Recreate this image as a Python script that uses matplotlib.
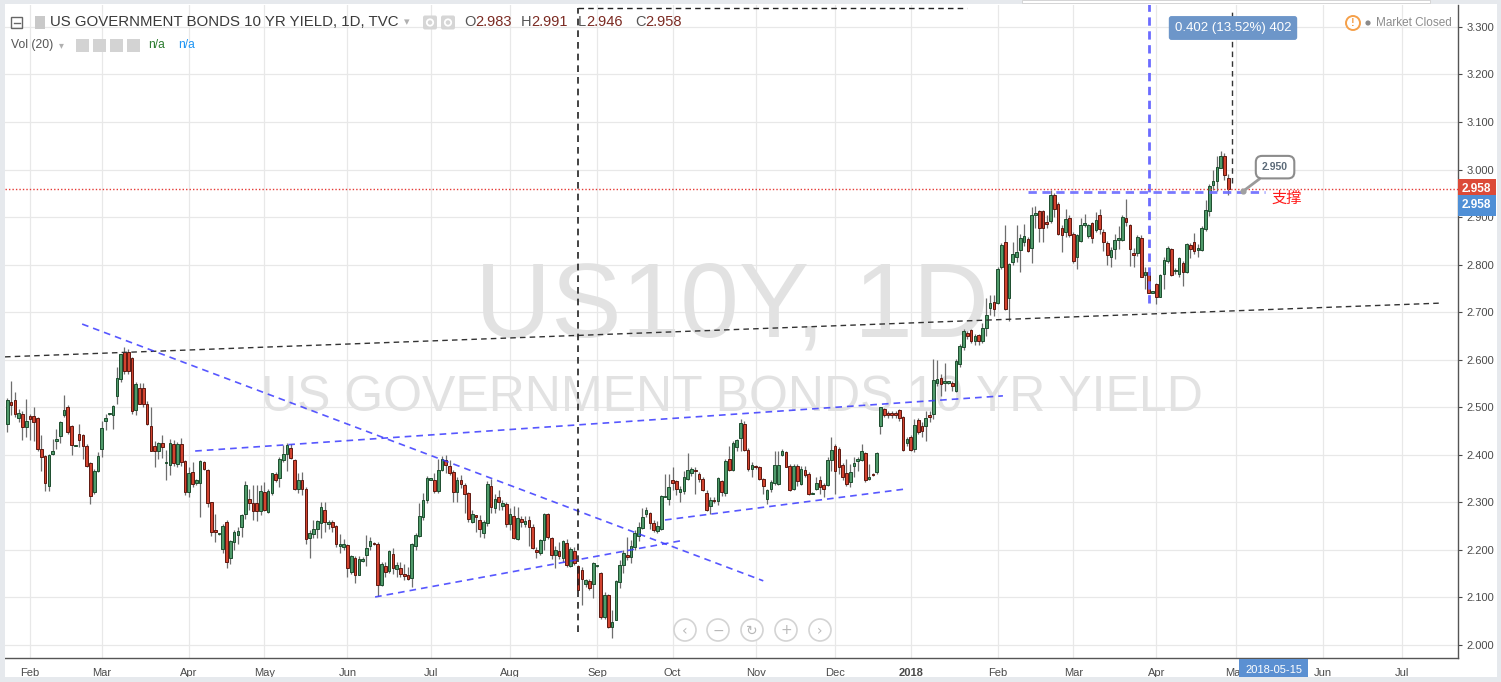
import numpy as np
import pandas as pd
import matplotlib
matplotlib.use("Agg")
import matplotlib.pyplot as plt
from matplotlib.patches import Rectangle, Circle, FancyBboxPatch

plt.rcParams["font.family"] = ["Liberation Sans", "DejaVu Sans"]

# daily OHLC of US10Y (TVC), last bar is 2018-04-27
opens = [
    2.465, 2.512, 2.515, 2.478, 2.486, 2.458, 2.481, 2.481, 2.478, 2.413,
    2.397, 2.335, 2.402, 2.429, 2.439, 2.483, 2.501, 2.460, 2.419, 2.443,
    2.442, 2.419, 2.383, 2.322, 2.366, 2.413, 2.471, 2.486, 2.483, 2.523,
    2.560, 2.616, 2.616, 2.604, 2.495, 2.541, 2.541, 2.506, 2.461, 2.419,
    2.409, 2.424, 2.382, 2.378, 2.422, 2.380, 2.422, 2.386, 2.322, 2.364,
    2.340, 2.341, 2.384, 2.369, 2.300, 2.241, 2.234, 2.201, 2.258, 2.184,
    2.217, 2.231, 2.248, 2.276, 2.308, 2.298, 2.298, 2.282, 2.321, 2.280,
    2.320, 2.359, 2.352, 2.390, 2.401, 2.415, 2.390, 2.329, 2.347, 2.329,
    2.225, 2.234, 2.245, 2.257, 2.285, 2.254, 2.258, 2.250, 2.209, 2.206,
    2.211, 2.154, 2.184, 2.148, 2.177, 2.190, 2.208, 2.214, 2.213, 2.127,
    2.166, 2.155, 2.192, 2.159, 2.163, 2.150, 2.147, 2.140, 2.209, 2.230,
    2.270, 2.305, 2.348, 2.348, 2.324, 2.369, 2.390, 2.376, 2.364, 2.322,
    2.348, 2.336, 2.319, 2.259, 2.273, 2.262, 2.235, 2.257, 2.335, 2.289,
    2.312, 2.292, 2.297, 2.255, 2.272, 2.223, 2.265, 2.255, 2.263, 2.249,
    2.199, 2.193, 2.221, 2.275, 2.225, 2.190, 2.197, 2.183, 2.215, 2.167,
    2.197, 2.167, 2.157, 2.129, 2.134, 2.129, 2.166, 2.152, 2.059, 2.106,
    2.038, 2.053, 2.132, 2.169, 2.190, 2.186, 2.206, 2.230, 2.247, 2.276,
    2.278, 2.257, 2.240, 2.244, 2.311, 2.307, 2.346, 2.344, 2.321, 2.323,
    2.349, 2.362, 2.367, 2.360, 2.349, 2.320, 2.293, 2.305, 2.302, 2.344,
    2.320, 2.391, 2.368, 2.416, 2.436, 2.465, 2.410, 2.370, 2.377, 2.374,
    2.349, 2.307, 2.328, 2.340, 2.339, 2.400, 2.405, 2.377, 2.328, 2.377,
    2.339, 2.368, 2.360, 2.318, 2.328, 2.346, 2.337, 2.337, 2.389, 2.419,
    2.412, 2.379, 2.361, 2.342, 2.377, 2.388, 2.389, 2.403, 2.349, 2.360,
    2.363, 2.461, 2.496, 2.488, 2.488, 2.488, 2.494, 2.480, 2.424, 2.438,
    2.412, 2.473, 2.461, 2.461, 2.484, 2.486, 2.552, 2.561, 2.552, 2.552,
    2.552, 2.535, 2.591, 2.626, 2.657, 2.662, 2.640, 2.652, 2.640, 2.667,
    2.708, 2.722, 2.720, 2.794, 2.847, 2.730, 2.805, 2.815, 2.831, 2.848,
    2.854, 2.835, 2.905, 2.912, 2.912, 2.890, 2.891, 2.947, 2.928, 2.876,
    2.869, 2.898, 2.865, 2.817, 2.849, 2.883, 2.861, 2.888, 2.873, 2.905,
    2.869, 2.845, 2.817, 2.832, 2.851, 2.851, 2.897, 2.883, 2.825, 2.824,
    2.856, 2.778, 2.784, 2.741, 2.760, 2.732, 2.780, 2.808, 2.832, 2.787,
    2.780, 2.803, 2.785, 2.841, 2.848, 2.830, 2.830, 2.874, 2.912, 2.967,
    2.975, 3.003, 3.028, 2.983,
]
highs = [
    2.520, 2.556, 2.532, 2.497, 2.493, 2.518, 2.486, 2.500, 2.479, 2.442,
    2.399, 2.402, 2.434, 2.455, 2.472, 2.525, 2.504, 2.462, 2.420, 2.464,
    2.444, 2.422, 2.385, 2.371, 2.406, 2.472, 2.485, 2.488, 2.504, 2.584,
    2.612, 2.626, 2.622, 2.605, 2.553, 2.550, 2.550, 2.513, 2.500, 2.430,
    2.428, 2.441, 2.410, 2.433, 2.431, 2.427, 2.436, 2.389, 2.375, 2.385,
    2.350, 2.389, 2.387, 2.371, 2.301, 2.275, 2.236, 2.255, 2.262, 2.220,
    2.242, 2.248, 2.276, 2.345, 2.329, 2.336, 2.336, 2.336, 2.343, 2.329,
    2.362, 2.364, 2.396, 2.420, 2.425, 2.422, 2.392, 2.361, 2.364, 2.333,
    2.241, 2.262, 2.262, 2.301, 2.301, 2.263, 2.263, 2.252, 2.234, 2.224,
    2.213, 2.189, 2.187, 2.187, 2.185, 2.231, 2.227, 2.216, 2.216, 2.175,
    2.175, 2.199, 2.203, 2.175, 2.175, 2.170, 2.164, 2.215, 2.235, 2.298,
    2.319, 2.355, 2.350, 2.361, 2.392, 2.397, 2.399, 2.389, 2.368, 2.354,
    2.357, 2.340, 2.322, 2.284, 2.273, 2.273, 2.263, 2.345, 2.350, 2.318,
    2.325, 2.305, 2.300, 2.289, 2.292, 2.291, 2.272, 2.272, 2.272, 2.255,
    2.206, 2.223, 2.277, 2.277, 2.227, 2.209, 2.216, 2.220, 2.223, 2.206,
    2.206, 2.169, 2.164, 2.139, 2.139, 2.174, 2.168, 2.153, 2.111, 2.108,
    2.074, 2.137, 2.179, 2.199, 2.227, 2.220, 2.241, 2.258, 2.288, 2.290,
    2.279, 2.262, 2.260, 2.316, 2.360, 2.360, 2.375, 2.346, 2.335, 2.365,
    2.403, 2.374, 2.374, 2.363, 2.353, 2.325, 2.311, 2.311, 2.354, 2.347,
    2.391, 2.419, 2.429, 2.433, 2.475, 2.472, 2.414, 2.384, 2.379, 2.377,
    2.351, 2.328, 2.346, 2.407, 2.407, 2.412, 2.407, 2.381, 2.381, 2.381,
    2.377, 2.377, 2.363, 2.321, 2.353, 2.356, 2.340, 2.395, 2.438, 2.423,
    2.416, 2.382, 2.391, 2.381, 2.395, 2.396, 2.423, 2.405, 2.381, 2.362,
    2.405, 2.501, 2.498, 2.493, 2.493, 2.493, 2.496, 2.482, 2.438, 2.442,
    2.475, 2.477, 2.468, 2.493, 2.493, 2.601, 2.599, 2.570, 2.594, 2.556,
    2.556, 2.601, 2.633, 2.665, 2.660, 2.665, 2.655, 2.655, 2.678, 2.730,
    2.737, 2.737, 2.796, 2.845, 2.883, 2.803, 2.848, 2.883, 2.865, 2.886,
    2.858, 2.921, 2.924, 2.914, 2.914, 2.904, 2.956, 2.951, 2.931, 2.883,
    2.917, 2.904, 2.869, 2.865, 2.897, 2.907, 2.886, 2.890, 2.910, 2.916,
    2.874, 2.850, 2.837, 2.864, 2.881, 2.905, 2.937, 2.885, 2.836, 2.862,
    2.863, 2.794, 2.790, 2.742, 2.762, 2.780, 2.815, 2.840, 2.836, 2.793,
    2.816, 2.808, 2.846, 2.846, 2.867, 2.843, 2.881, 2.935, 2.969, 3.000,
    3.028, 3.039, 3.035, 2.991,
]
lows = [
    2.448, 2.483, 2.479, 2.469, 2.432, 2.437, 2.432, 2.430, 2.409, 2.367,
    2.324, 2.324, 2.399, 2.413, 2.425, 2.479, 2.444, 2.399, 2.418, 2.416,
    2.392, 2.374, 2.297, 2.318, 2.364, 2.395, 2.453, 2.484, 2.455, 2.506,
    2.554, 2.570, 2.570, 2.486, 2.483, 2.506, 2.500, 2.462, 2.408, 2.374,
    2.392, 2.394, 2.347, 2.357, 2.376, 2.375, 2.377, 2.315, 2.312, 2.333,
    2.336, 2.270, 2.368, 2.290, 2.229, 2.217, 2.232, 2.194, 2.161, 2.170,
    2.199, 2.213, 2.227, 2.266, 2.284, 2.262, 2.261, 2.273, 2.282, 2.278,
    2.315, 2.343, 2.333, 2.385, 2.366, 2.392, 2.326, 2.319, 2.315, 2.213,
    2.182, 2.226, 2.226, 2.226, 2.238, 2.245, 2.238, 2.206, 2.194, 2.199,
    2.143, 2.150, 2.131, 2.147, 2.175, 2.166, 2.199, 2.210, 2.103, 2.125,
    2.143, 2.152, 2.150, 2.143, 2.142, 2.137, 2.136, 2.121, 2.200, 2.227,
    2.263, 2.298, 2.346, 2.319, 2.319, 2.366, 2.361, 2.357, 2.301, 2.301,
    2.331, 2.277, 2.259, 2.256, 2.238, 2.228, 2.226, 2.250, 2.277, 2.277,
    2.283, 2.283, 2.248, 2.241, 2.223, 2.221, 2.248, 2.248, 2.209, 2.202,
    2.183, 2.190, 2.199, 2.223, 2.181, 2.162, 2.181, 2.174, 2.165, 2.164,
    2.169, 2.115, 2.085, 2.122, 2.115, 2.099, 2.164, 2.055, 2.055, 2.036,
    2.015, 2.052, 2.120, 2.151, 2.178, 2.172, 2.200, 2.219, 2.244, 2.270,
    2.244, 2.237, 2.235, 2.241, 2.311, 2.295, 2.325, 2.316, 2.300, 2.318,
    2.346, 2.356, 2.318, 2.342, 2.323, 2.281, 2.276, 2.298, 2.295, 2.314,
    2.314, 2.367, 2.367, 2.409, 2.409, 2.409, 2.367, 2.353, 2.370, 2.346,
    2.318, 2.297, 2.321, 2.337, 2.337, 2.398, 2.374, 2.323, 2.326, 2.335,
    2.337, 2.353, 2.316, 2.317, 2.325, 2.318, 2.311, 2.335, 2.367, 2.318,
    2.360, 2.346, 2.335, 2.332, 2.353, 2.367, 2.388, 2.342, 2.346, 2.356,
    2.360, 2.444, 2.480, 2.477, 2.477, 2.477, 2.472, 2.407, 2.419, 2.407,
    2.405, 2.444, 2.437, 2.430, 2.468, 2.475, 2.545, 2.524, 2.535, 2.548,
    2.535, 2.533, 2.584, 2.620, 2.643, 2.635, 2.630, 2.630, 2.635, 2.650,
    2.695, 2.692, 2.718, 2.791, 2.704, 2.681, 2.799, 2.806, 2.785, 2.840,
    2.826, 2.803, 2.876, 2.847, 2.847, 2.877, 2.888, 2.900, 2.862, 2.827,
    2.858, 2.858, 2.803, 2.791, 2.847, 2.879, 2.856, 2.845, 2.869, 2.864,
    2.829, 2.800, 2.796, 2.811, 2.832, 2.850, 2.881, 2.797, 2.794, 2.818,
    2.773, 2.748, 2.741, 2.740, 2.717, 2.731, 2.748, 2.804, 2.776, 2.780,
    2.773, 2.755, 2.783, 2.814, 2.822, 2.815, 2.829, 2.871, 2.902, 2.956,
    2.955, 3.003, 2.977, 2.946,
]
closes = [
    2.515, 2.505, 2.485, 2.488, 2.458, 2.472, 2.476, 2.469, 2.413, 2.395,
    2.341, 2.400, 2.408, 2.434, 2.470, 2.495, 2.448, 2.421, 2.419, 2.432,
    2.419, 2.377, 2.313, 2.367, 2.397, 2.457, 2.478, 2.486, 2.502, 2.562,
    2.611, 2.577, 2.577, 2.492, 2.549, 2.507, 2.507, 2.465, 2.409, 2.409,
    2.425, 2.417, 2.382, 2.424, 2.383, 2.422, 2.385, 2.322, 2.361, 2.338,
    2.348, 2.386, 2.371, 2.299, 2.238, 2.237, 2.234, 2.251, 2.175, 2.218,
    2.237, 2.239, 2.274, 2.336, 2.299, 2.282, 2.282, 2.323, 2.285, 2.323,
    2.361, 2.348, 2.392, 2.401, 2.420, 2.394, 2.329, 2.347, 2.329, 2.224,
    2.236, 2.245, 2.260, 2.291, 2.258, 2.258, 2.249, 2.213, 2.213, 2.213,
    2.161, 2.187, 2.148, 2.180, 2.180, 2.203, 2.218, 2.213, 2.127, 2.171,
    2.154, 2.197, 2.162, 2.168, 2.150, 2.146, 2.138, 2.212, 2.231, 2.271,
    2.305, 2.352, 2.348, 2.324, 2.369, 2.392, 2.378, 2.362, 2.322, 2.348,
    2.338, 2.317, 2.266, 2.275, 2.270, 2.243, 2.258, 2.338, 2.290, 2.307,
    2.300, 2.299, 2.254, 2.275, 2.226, 2.268, 2.258, 2.260, 2.249, 2.204,
    2.195, 2.221, 2.275, 2.227, 2.190, 2.199, 2.188, 2.218, 2.169, 2.201,
    2.173, 2.116, 2.139, 2.136, 2.120, 2.173, 2.166, 2.059, 2.106, 2.038,
    2.048, 2.134, 2.169, 2.193, 2.186, 2.209, 2.235, 2.249, 2.270, 2.283,
    2.257, 2.241, 2.250, 2.314, 2.314, 2.333, 2.340, 2.328, 2.328, 2.354,
    2.368, 2.370, 2.365, 2.349, 2.325, 2.283, 2.305, 2.302, 2.351, 2.321,
    2.388, 2.368, 2.425, 2.431, 2.467, 2.410, 2.370, 2.379, 2.374, 2.349,
    2.335, 2.325, 2.342, 2.379, 2.379, 2.407, 2.375, 2.326, 2.377, 2.344,
    2.370, 2.358, 2.318, 2.319, 2.340, 2.332, 2.328, 2.389, 2.410, 2.367,
    2.374, 2.354, 2.339, 2.363, 2.382, 2.391, 2.409, 2.346, 2.354, 2.358,
    2.404, 2.500, 2.484, 2.484, 2.484, 2.484, 2.477, 2.410, 2.433, 2.410,
    2.463, 2.449, 2.451, 2.477, 2.479, 2.557, 2.559, 2.549, 2.552, 2.552,
    2.545, 2.598, 2.629, 2.661, 2.650, 2.640, 2.650, 2.640, 2.667, 2.695,
    2.720, 2.706, 2.791, 2.841, 2.706, 2.801, 2.822, 2.827, 2.856, 2.860,
    2.829, 2.904, 2.908, 2.876, 2.876, 2.886, 2.947, 2.917, 2.865, 2.863,
    2.895, 2.862, 2.808, 2.862, 2.884, 2.888, 2.883, 2.857, 2.894, 2.875,
    2.848, 2.820, 2.830, 2.852, 2.857, 2.901, 2.890, 2.832, 2.820, 2.859,
    2.774, 2.784, 2.741, 2.741, 2.732, 2.778, 2.809, 2.835, 2.778, 2.787,
    2.814, 2.785, 2.843, 2.832, 2.829, 2.834, 2.877, 2.914, 2.965, 2.976,
    3.005, 3.028, 2.988, 2.958,
]

last_day = "2018-04-27"
holidays = ["2017-02-20", "2017-05-29", "2017-09-04", "2017-11-23", "2017-12-25"]
future_bars = 61
price_ticks = [2.0, 2.1, 2.2, 2.3, 2.4, 2.5, 2.6, 2.7, 2.8, 2.9, 3.0, 3.1, 3.2, 3.3]

# drawings on the chart: (bar number, price)
black_trend = [(-0.6, 2.606), (379.0, 2.719)]
blue_trends = [
    [(19.8, 2.675), (200.0, 2.135)],
    [(49.7, 2.408), (263.4, 2.524)],
    [(97.3, 2.101), (178.0, 2.219)],
    [(174.0, 2.263), (237.5, 2.328)],
]
support_line = [(270.0, 2.953), (332.7, 2.953)]
support_point = (326.9, 2.954)
support_label = (335.4, 3.005)
support_text = (338.5, 2.940)
last_price = 2.958
measure_bars = [302, 324]
measure_low = [2.719, 2.971]
box_bars = [151, 254]
box_prices = [2.027, 3.340]
cursor_date = "2018-05-15"

# ---------------------------------------------------------------
n = len(closes)
dates = pd.bdate_range(end=last_day, periods=n, freq="C", holidays=holidays)
future = pd.bdate_range(start=dates[-1] + pd.Timedelta(days=1), periods=future_bars)
all_dates = dates.append(future)
months = all_dates.to_period("M")
tick_idx = [i for i in range(1, len(all_dates)) if months[i] != months[i - 1]]
tick_lab = ["2018" if all_dates[i].month == 1 else all_dates[i].strftime("%b") for i in tick_idx]

W, H = 1501, 682
fig = plt.figure(figsize=(W / 100, H / 100), dpi=100)
fig.patch.set_facecolor("white")
ax = fig.add_axes([5 / W, 24 / H, 1453 / W, 653 / H])
ax.set_xlim(-0.61, 383.8)
ax.set_ylim(1.9727, 3.346)
ax.set_axisbelow(True)

# candles
x = np.arange(n)
o, h, l, c = (np.array(v) for v in (opens, highs, lows, closes))
up = c >= o
ax.vlines(x, l, h, color="#6e6e6e", lw=0.9, zorder=3)
body = np.maximum(np.abs(c - o), 0.0025)
bottom = np.minimum(o, c)
ax.bar(x[up], body[up], bottom=bottom[up], width=0.7, color="#4f9a6a",
       edgecolor="#1d4d2e", lw=0.7, zorder=4)
ax.bar(x[~up], body[~up], bottom=bottom[~up], width=0.7, color="#d2432f",
       edgecolor="#5e1810", lw=0.7, zorder=4)

# axes styling
ax.set_yticks(price_ticks)
ax.set_yticklabels([f"{p:.3f}" for p in price_ticks])
ax.yaxis.tick_right()
ax.set_xticks(tick_idx)
ax.set_xticklabels(tick_lab)
for t in ax.get_xticklabels():
    if t.get_text() == "2018":
        t.set_fontweight("bold")
ax.tick_params(axis="y", labelsize=8, colors="#4a4a4a", length=3, pad=3)
ax.tick_params(axis="x", labelsize=8, colors="#4a4a4a", length=0, pad=7)
ax.grid(True, color="#e8e8e8", lw=0.9)
for s in ("left", "top"):
    ax.spines[s].set_visible(False)
for s in ("right", "bottom"):
    ax.spines[s].set_color("#555555")
    ax.spines[s].set_linewidth(1.0)

# watermark
ax.text(0.5, 0.535, "US10Y, 1D", transform=ax.transAxes, ha="center", va="center",
        fontsize=76, color="#e2e2e2", zorder=0.6)
ax.text(0.5, 0.398, "US GOVERNMENT BONDS 10 YR YIELD", transform=ax.transAxes,
        ha="center", va="center", fontsize=36, color="#e2e2e2", zorder=0.6)

# trend lines
(x0, y0), (x1, y1) = black_trend
ax.plot([x0, x1], [y0, y1], color="#333333", lw=1.0, ls=(0, (4, 3)), zorder=5)
for (x0, y0), (x1, y1) in blue_trends:
    ax.plot([x0, x1], [y0, y1], color="#3a3aff", lw=1.2, ls=(0, (4, 3)), alpha=0.85, zorder=5)
(x0, y0), (x1, y1) = support_line
ax.plot([x0, x1], [y0, y1], color="#6b6bff", lw=2.0, ls=(0, (3, 2)), alpha=0.9, zorder=5)

# date/price box tool
ax.plot([box_bars[0], box_bars[0]], box_prices, color="#222222", lw=1.2, ls=(0, (4, 3)), zorder=5)
ax.plot(box_bars, [box_prices[1], box_prices[1]], color="#222222", lw=1.0, ls=(0, (4, 3)), zorder=5)

# measure tool
ax.plot([measure_bars[0]] * 2, [measure_low[0], 3.36], color="#6b6bff", lw=2.0,
        ls=(0, (3, 2)), zorder=5, clip_on=True)
ax.plot([measure_bars[1]] * 2, [measure_low[1], 3.34], color="#333333", lw=1.0,
        ls=(0, (4, 3)), zorder=5)

# last price line
ax.axhline(last_price, color="#e53935", lw=1.0, ls=(0, (1, 1.5)), zorder=5)

# support callout
ax.annotate("2.950", xy=support_point, xytext=support_label, textcoords="data",
            ha="center", va="center", fontsize=7.5, fontweight="bold", color="#5b6a78",
            bbox=dict(boxstyle="round,pad=0.6", fc="white", ec="#8c8c8c", lw=1.5),
            arrowprops=dict(arrowstyle="-", color="#9a9a9a", lw=2.0, shrinkA=0, shrinkB=0),
            zorder=7)
ax.plot(*support_point, "o", ms=3.5, color="#a0a0a0", zorder=7)
ax.text(*support_text, "支撑", ha="center", va="center", fontsize=11, color="#ff1a1a",
        family=["Noto Sans CJK SC", "DejaVu Sans"], zorder=7)

# price labels on the axis
ax.annotate(f"{last_price:.3f}", xy=(1, last_price), xycoords=ax.get_yaxis_transform(),
            xytext=(4, 0), textcoords="offset pixels", ha="left", va="center",
            fontsize=8.5, fontweight="bold", color="white", annotation_clip=False,
            bbox=dict(boxstyle="square,pad=0.35", fc="#dc4a38", ec="none"), zorder=8)
ax.annotate(f"{last_price:.3f}", xy=(1, last_price), xycoords=ax.get_yaxis_transform(),
            xytext=(4, -16), textcoords="offset pixels", ha="left", va="center",
            fontsize=8.5, fontweight="bold", color="white", annotation_clip=False,
            bbox=dict(boxstyle="square,pad=0.35", fc="#4f8fd6", ec="none"), zorder=8)

# crosshair date label
cur = all_dates.get_loc(pd.Timestamp(cursor_date))
ax.annotate(cursor_date, xy=(cur, 0), xycoords=ax.get_xaxis_transform(),
            xytext=(0, -12), textcoords="offset pixels", ha="center", va="center",
            fontsize=8, color="white", annotation_clip=False,
            bbox=dict(boxstyle="square,pad=0.55", fc="#5b90d2", ec="none"), zorder=8)

# ---------------------------------------------------------------
# overlay in pixel coordinates for the UI chrome
ov = fig.add_axes([0, 0, 1, 1], zorder=10)
ov.set_xlim(0, W)
ov.set_ylim(H, 0)
ov.axis("off")

edge = "#e6e9ed"
ov.add_patch(Rectangle((0, 0), W, 4, fc=edge, ec="none"))
ov.add_patch(Rectangle((0, 0), 5, H, fc=edge, ec="none"))
ov.add_patch(Rectangle((1497, 0), 4, H, fc=edge, ec="none"))
ov.add_patch(Rectangle((0, 677), W, 5, fc=edge, ec="none"))
ov.add_patch(Rectangle((1022, 0), 408, 3, fc="white", ec="#d0d0d0", lw=0.6))

# header row 1
ov.add_patch(Rectangle((11, 17), 11, 11, fc="none", ec="#666666", lw=1))
ov.plot([13.5, 19.5], [22.5, 22.5], color="#666666", lw=1)
ov.add_patch(Rectangle((35, 16), 10, 13, fc="#c9c9c9", ec="none"))
ov.text(50, 22.5, "US GOVERNMENT BONDS 10 YR YIELD, 1D, TVC", fontsize=10.8,
        color="#3a3a3a", va="center", ha="left")
ov.text(404, 22, "▾", fontsize=8, color="#b0b0b0", va="center", family=["DejaVu Sans"])
for xx in (423, 441):
    ov.add_patch(FancyBboxPatch((xx, 15.5), 14, 14, boxstyle="round,pad=0,rounding_size=2",
                                fc="#d6d6d6", ec="none"))
    ov.add_patch(Circle((xx + 7, 22.5), 3.2, fc="none", ec="white", lw=1.3))
ohlc = [("O", "2.983", 464), ("H", "2.991", 521), ("L", "2.946", 578), ("C", "2.958", 635)]
for lab, val, xx in ohlc:
    t = ov.text(xx, 22.5, lab, fontsize=10.5, color="#555555", va="center", ha="left")
    ov.annotate(val, xy=(1, 0.5), xycoords=t, va="center", ha="left",
                fontsize=10.5, color="#7b2a22")

# header row 2
ov.text(11, 45, "Vol (20)", fontsize=8.7, color="#555555", va="center", ha="left")
ov.text(59, 45, "▾", fontsize=7, color="#b0b0b0", va="center", family=["DejaVu Sans"])
for xx in (76, 93, 110, 127):
    ov.add_patch(Rectangle((xx, 38.5), 13, 13, fc="#d3d3d3", ec="none"))
ov.text(148, 45, "n/a", fontsize=8.7, color="#2e7d32", va="center", ha="left")
ov.text(178, 45, "n/a", fontsize=8.7, color="#2196f3", va="center", ha="left")

# market status
ov.add_patch(Circle((1353, 23), 7, fc="white", ec="#f5a04a", lw=1.4))
ov.text(1353, 23.5, "!", fontsize=8, color="#f5a04a", ha="center", va="center",
        fontweight="bold")
ov.add_patch(Circle((1368, 23), 2.6, fc="#8a8a8a", ec="none"))
ov.text(1376, 23, "Market Closed", fontsize=8.5, color="#8c8c8c", va="center", ha="left")

# measure label
ov.text(1233, 28, "0.402 (13.52%) 402", fontsize=9.5, color="white", ha="center",
        va="center", bbox=dict(boxstyle="round,pad=0.45,rounding_size=0.2",
                               fc="#6d96c9", ec="none"))

# navigation buttons
for xx, sym in zip((685, 718, 752, 786, 820), ("‹", "−", "↻", "+", "›")):
    ov.add_patch(Circle((xx, 630), 11, fc="white", ec="#d4d4d4", lw=1.2))
    ov.text(xx, 630.5, sym, fontsize=10, color="#b8b8b8", ha="center", va="center",
            family=["DejaVu Sans"])

fig.savefig("out.png", dpi=100)
